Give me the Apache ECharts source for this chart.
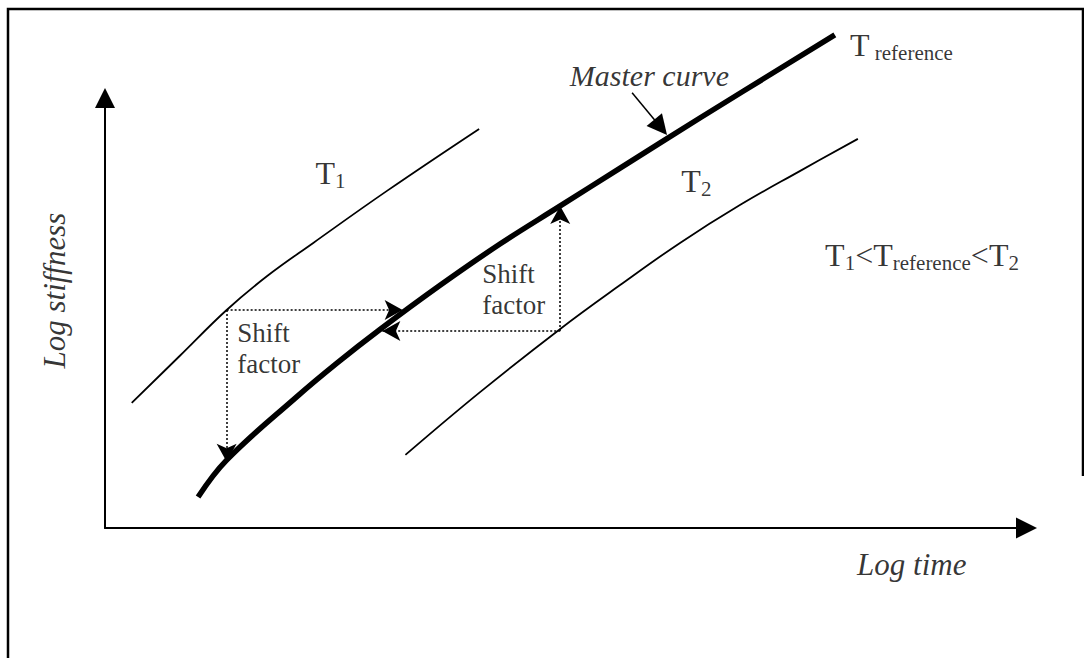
<!DOCTYPE html>
<html>
<head>
<meta charset="utf-8">
<title>Master curve</title>
<style>
  html, body { margin: 0; padding: 0; background: #fff; }
  #main { width: 1084px; height: 658px; }
</style>
<script src="https://cdn.jsdelivr.net/npm/echarts@6/dist/echarts.min.js"></script>
</head>
<body>
<div id="main"></div>
<script>
// schematic: both axes run 0-100 in arbitrary units (log time / log stiffness)
const curveT1 = [[2.9, 29.1], [8.1, 40.0], [13.2, 50.7], [17.6, 58.6], [22.6, 66.3], [30.6, 78.4], [40.6, 92.8]]
const curveMaster = [[10.1, 7.2], [13.2, 15.8], [20.8, 30.5], [25.2, 38.4], [29.8, 46.1], [36.4, 56.5], [42.9, 66.1], [49.4, 74.9], [55.9, 83.7], [64.6, 95.4], [79.2, 114.7]]
const curveT2 = [[32.6, 17.0], [40.7, 31.6], [49.4, 46.3], [55.9, 56.5], [62.4, 66.3], [68.9, 75.1], [75.4, 83.0], [81.7, 90.5]]

// shift factor arrows, [from, to]
const shiftT1 = [[[13.2, 50.7], [32.3, 50.7]], [[13.2, 50.7], [13.2, 15.4]]]
const shiftT2 = [[[49.4, 45.8], [30.1, 45.8]], [[49.4, 45.8], [49.4, 74.9]]]
// arrow pointing at the master curve
const masterPointer = [[57.2, 101.2], [60.3, 93.2]]

// texts and where they sit (left / middle of the text, in axis units)
const noteText = ['{t|T}{s|1}', '{t|T}{s|2}', '{t|T}{s| reference}', '{t|T}{s|1}{t|<T}{s|reference}{t|<T}{s|2}',
  'Shift\nfactor', 'Shift\nfactor', 'Master curve', 'Log time', 'Log stiffness']
const noteAt = [[22.9, 82.4], [62.6, 80.5], [80.9, 112.3], [78.2, 63.4],
  [14.4, 41.6], [41.0, 55.4], [50.5, 105.1], [87.6, -8.6], [-5.4, 55.1]]

const serif = '"Liberation Serif", "Times New Roman", serif'

let chart = echarts.init(document.getElementById('main'), null, { renderer: 'svg' })

function toPairs (list) {
  return list.map(p => [{ coord: p[0] }, { coord: p[1] }])
}

let notes = noteText.map((text, i) => {
  let label = {
    show: true,
    formatter: text,
    position: [0, 0],
    align: 'left',
    verticalAlign: 'middle',
    color: '#000',
    fontFamily: serif,
    fontSize: 32,
    rich: {
      t: { fontFamily: serif, fontSize: 32, lineHeight: 40, color: '#000' },
      s: { fontFamily: serif, fontSize: 21, lineHeight: 24, padding: [16, 0, 0, 0], color: '#000' }
    }
  }
  if (text.indexOf('Shift') === 0) {
    label.fontSize = 27
    label.lineHeight = 31
  }
  if (text === 'Master curve') {
    label.fontSize = 30
    label.fontStyle = 'italic'
  }
  if (text.indexOf('Log') === 0) {
    label.fontSize = 31
    label.fontStyle = 'italic'
    label.align = 'center'
  }
  if (text === 'Log stiffness') {
    label.rotate = 90
  }
  return { value: noteAt[i], label: label }
})

let option = {
  backgroundColor: '#fff',
  animation: false,
  grid: {
    left: 105,
    right: 57.5,
    top: 98,
    bottom: 130,
    outerBoundsMode: 'none'
  },
  xAxis: {
    type: 'value',
    min: 0,
    max: 100,
    axisLine: {
      show: true,
      symbol: ['none', 'triangle'],
      symbolSize: [21, 21],
      lineStyle: { color: '#000', width: 2 }
    },
    axisTick: { show: false },
    axisLabel: { show: false },
    splitLine: { show: false }
  },
  yAxis: {
    type: 'value',
    min: 0,
    max: 100,
    axisLine: {
      show: true,
      symbol: ['none', 'triangle'],
      symbolSize: [20, 20],
      lineStyle: { color: '#000', width: 2 }
    },
    axisTick: { show: false },
    axisLabel: { show: false },
    splitLine: { show: false }
  },
  graphic: [{
    type: 'polyline',
    silent: true,
    shape: { points: [[8, 658], [8, 9], [1083, 9], [1083, 476]] },
    style: { stroke: '#000', lineWidth: 2.5, fill: null }
  }],
  series: [{
    name: 'T1',
    type: 'line',
    data: curveT1,
    smooth: 0.4,
    symbol: 'none',
    clip: false,
    silent: true,
    lineStyle: { color: '#000', width: 1.8 }
  }, {
    name: 'T2',
    type: 'line',
    data: curveT2,
    smooth: 0.4,
    symbol: 'none',
    clip: false,
    silent: true,
    lineStyle: { color: '#000', width: 1.8 },
    markLine: {
      silent: true,
      symbol: ['none', 'arrow'],
      symbolSize: [15, 18],
      label: { show: false },
      emphasis: { disabled: true },
      lineStyle: { color: '#000', width: 1.5, type: [2, 2] },
      data: toPairs(shiftT1.concat(shiftT2))
    }
  }, {
    name: 'Master curve',
    type: 'line',
    data: curveMaster,
    smooth: 0.4,
    symbol: 'none',
    clip: false,
    silent: true,
    z: 3,
    lineStyle: { color: '#000', width: 5.5 }
  }, {
    name: 'pointer',
    type: 'lines',
    coordinateSystem: 'cartesian2d',
    clip: false,
    silent: true,
    symbol: ['none', 'triangle'],
    symbolSize: 20,
    lineStyle: { color: '#000', width: 1.5, opacity: 1, curveness: 0 },
    data: [{ coords: masterPointer }]
  }, {
    name: 'notes',
    type: 'scatter',
    data: notes,
    symbolSize: 1,
    clip: false,
    silent: true,
    itemStyle: { color: 'rgba(0,0,0,0)' }
  }]
}

chart.setOption(option)
</script>
</body>
</html>
